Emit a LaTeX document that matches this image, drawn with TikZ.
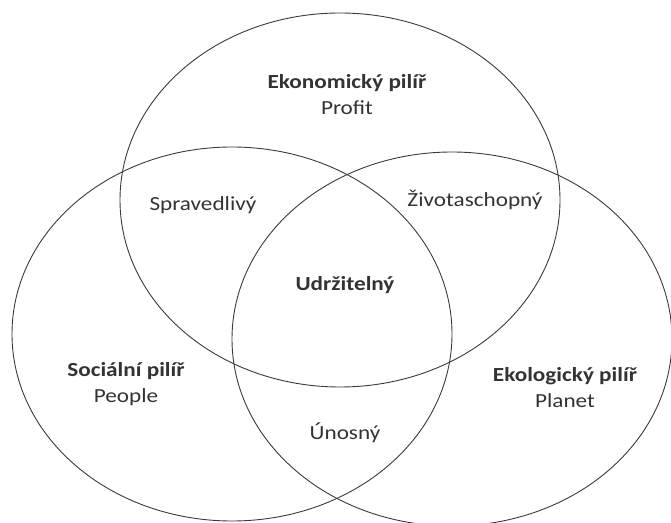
\documentclass[tikz,border=0pt]{standalone}
\usepackage{fontspec}
\setmainfont{Carlito}
\usepackage{graphicx}
\usepackage{xcolor}
\usepackage{tikz}
\usetikzlibrary{positioning}
\definecolor{vennLine}{HTML}{3A3A3A}
\definecolor{vennText}{HTML}{333333}
\newcommand{\wide}[1]{\scalebox{1.16}[1]{#1}}

\begin{document}
\begin{tikzpicture}[x=1pt, y=1pt, every node/.style={font=\fontsize{20}{26}\selectfont, text=vennText},
  pillar/.style={align=center, inner sep=0pt},
  zone/.style={inner sep=0pt}]
\useasboundingbox (0,0) rectangle (671,522);
% three pillars
\foreach \cx/\cy in {340/322, 232/188, 452/183}{
  \draw[vennLine, line width=0.9pt] (\cx,\cy) ellipse [x radius=220, y radius=187];
}
% pillar labels
\node[pillar] (econ) at (347,427) {\wide{\textbf{Ekonomický pilíř}}\\\wide{Profit}};
\node[pillar] (soc) at (126,138) {\wide{\textbf{Sociální pilíř}}\\\wide{People}};
\node[pillar] (eco) at (565,134) {\wide{\textbf{Ekologický pilíř}}\\\wide{Planet}};

% overlaps
\node[zone] (fair) at (203,317) {\wide{Spravedlivý}};
\node[zone] (viable) at (475,322) {\wide{Životaschopný}};
\node[zone] (bear) at (345,89) {\wide{Únosný}};
\node[zone] (sust) at (345,237) {\wide{\textbf{Udržitelný}}};
\end{tikzpicture}
\end{document}
